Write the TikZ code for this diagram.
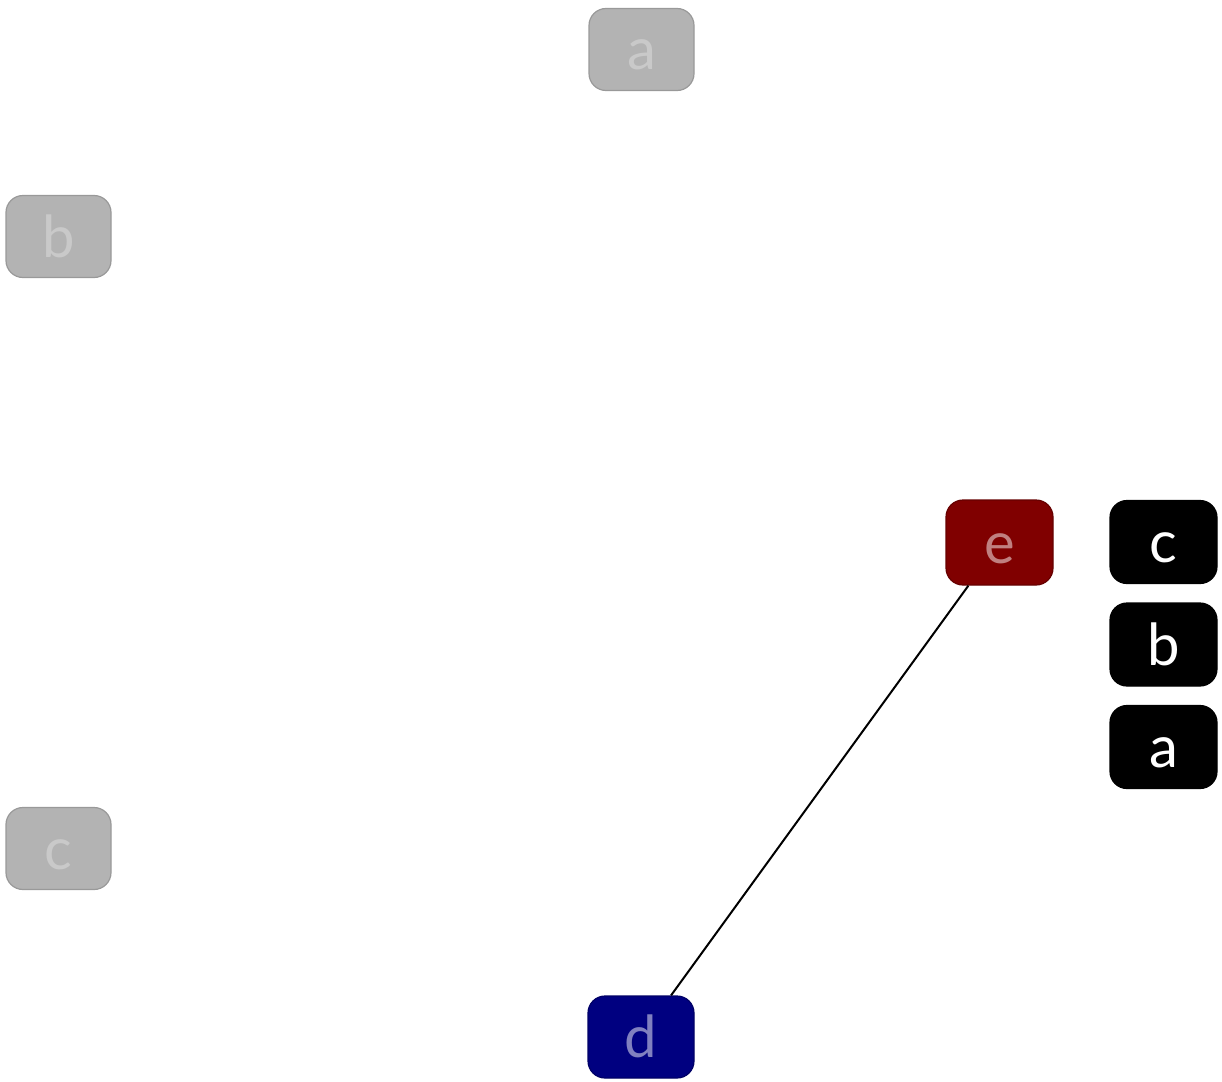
\documentclass[tikz,border=0pt]{standalone}
\usepackage{fontspec}
\setmainfont{Lato}
\begin{document}
\begin{tikzpicture}[x=1pt,y=-1pt,
  box/.style={rounded corners=17pt, minimum width=105pt, minimum height=82pt, inner sep=0pt, line width=1.2pt, text height=41pt, text depth=0pt, font=\fontsize{58}{58}\selectfont},
  grayb/.style={box, fill=graynode, draw=grayline, text=graytext},
  redb/.style={box, fill=rednode, draw=redline, text=redtext, minimum width=107pt, minimum height=85pt},
  blueb/.style={box, fill=bluenode, draw=blueline, text=bluetext, minimum width=106pt},
  blackb/.style={box, fill=black, draw=black, text=white, minimum width=107pt, minimum height=83pt},
  conn/.style={draw=black, line width=2pt}]
\definecolor{graynode}{HTML}{B3B3B3}
\definecolor{grayline}{HTML}{999999}
\definecolor{graytext}{HTML}{C9C9C9}
\definecolor{rednode}{HTML}{800000}
\definecolor{redline}{HTML}{660000}
\definecolor{redtext}{HTML}{C08080}
\definecolor{bluenode}{HTML}{000080}
\definecolor{blueline}{HTML}{000066}
\definecolor{bluetext}{HTML}{8080C0}
\useasboundingbox (0,0) rectangle (1222,1081);
\node[grayb] (a) at (641.5,49.5) {a};
\node[grayb] (b) at (58.5,236.5) {b};
\node[grayb] (c) at (58.5,848.5) {c};
\node[redb] (e) at (999.5,542.5) {e};
\node[blueb] (d) at (641,1037) {d};
\node[blackb] (kc) at (1163.5,542) {c};
\node[blackb] (kb) at (1163.5,644.5) {b};
\node[blackb] (ka) at (1163.5,747) {a};
\draw[conn] (e) -- (d);
\end{tikzpicture}
\end{document}
